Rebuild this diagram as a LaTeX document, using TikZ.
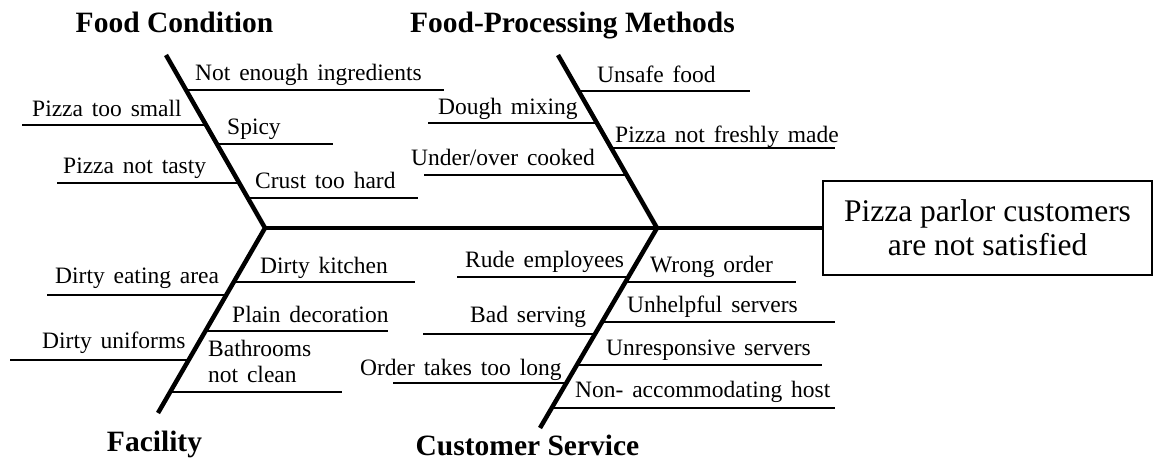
\documentclass[tikz,border=0pt]{standalone}
\usepackage{fontspec}
\setmainfont{Liberation Serif}
\newfontfamily\ribfont[WordSpace=1.5]{Liberation Serif}
\usetikzlibrary{positioning,calc}

\begin{document}
\begin{tikzpicture}[x=1pt, y=-1pt,
    bone/.style={line width=4.5pt, line join=miter},
    rib/.style={line width=1.4pt},
    lbl/.style={inner sep=0pt, anchor=base west, font=\ribfont\fontsize{23.5}{26}\selectfont},
    cat/.style={inner sep=0pt, anchor=base, font=\fontsize{29.5}{32}\selectfont\bfseries}]
\useasboundingbox (0,0) rectangle (1155,462);

\coordinate (fc-top) at (166,55);
\coordinate (fc-root) at (265,228);
\coordinate (fa-end) at (158,413);
\coordinate (fp-top) at (558,55);
\coordinate (fp-root) at (657,228);
\coordinate (cs-end) at (540,428);

\node[draw, line width=1.6pt, minimum width=329pt, minimum height=94pt, align=center,
      font=\fontsize{31.5}{34}\selectfont] (effect) at (987.5,228)
      {\raisebox{-4pt}{Pizza parlor customers}\\\raisebox{-4pt}{are not satisfied}};

\draw[bone] (fc-top) -- (fc-root) -- (fa-end);
\draw[bone] (fp-top) -- (fp-root) -- (cs-end);
\draw[bone] (fc-root) -- (effect.west);

\node[cat] (food-cond) at (174.5,33) {Food Condition};
\node[cat] (food-proc) at (572.5,33) {Food-Processing Methods};
\node[cat] (facility) at (154.5,451) {Facility};
\node[cat] (service) at (527.5,455) {Customer Service};

% food condition
\draw[rib] ($(fc-top)!0.202!(fc-root)$) -- ++(258,0);
\draw[rib] ($(fc-top)!0.405!(fc-root)$) -- ++(-184,0);
\draw[rib] ($(fc-top)!0.514!(fc-root)$) -- ++(116,0);
\draw[rib] ($(fc-top)!0.740!(fc-root)$) -- ++(-182,0);
\draw[rib] ($(fc-top)!0.827!(fc-root)$) -- ++(170,0);
\node[lbl] (ingredients) at (195,81) {Not enough ingredients};
\node[lbl] (too-small) at (32,117) {Pizza too small};
\node[lbl] (spicy) at (227,135) {Spicy};
\node[lbl] (not-tasty) at (63,174) {Pizza not tasty};
\node[lbl] (crust) at (255,189) {Crust too hard};

% food-processing methods
\draw[rib] ($(fp-top)!0.208!(fp-root)$) -- ++(171,0);
\draw[rib] ($(fp-top)!0.393!(fp-root)$) -- ++(-169,0);
\draw[rib] ($(fp-top)!0.538!(fp-root)$) -- ++(224,0);
\draw[rib] ($(fp-top)!0.694!(fp-root)$) -- ++(-203,0);
\node[lbl] (unsafe) at (597,83) {Unsafe food};
\node[lbl] (dough) at (438,115) {Dough mixing};
\node[lbl] (not-fresh) at (615,143) {Pizza not freshly made};
\node[lbl] (cooked) at (411,166) {Under/over cooked};

% facility
\draw[rib] ($(fc-root)!0.292!(fa-end)$) -- ++(181,0);
\draw[rib] ($(fc-root)!0.362!(fa-end)$) -- ++(-179,0);
\draw[rib] ($(fc-root)!0.557!(fa-end)$) -- ++(183,0);
\draw[rib] ($(fc-root)!0.714!(fa-end)$) -- ++(-179,0);
\draw[rib] ($(fc-root)!0.886!(fa-end)$) -- ++(172,0);
\node[lbl] (kitchen) at (260,273) {Dirty kitchen};
\node[lbl] (eating) at (55,283) {Dirty eating area};
\node[lbl] (decoration) at (232,322) {Plain decoration};
\node[lbl] (uniforms) at (42,348) {Dirty uniforms};
\node[lbl, align=left, anchor=north west] (bathrooms) at (208,340) {Bathrooms\\not clean};

% customer service
\draw[rib] ($(fp-root)!0.245!(cs-end)$) -- ++(-171,0);
\draw[rib] ($(fp-root)!0.270!(cs-end)$) -- ++(171,0);
\draw[rib] ($(fp-root)!0.470!(cs-end)$) -- ++(233,0);
\draw[rib] ($(fp-root)!0.530!(cs-end)$) -- ++(-172,0);
\draw[rib] ($(fp-root)!0.685!(cs-end)$) -- ++(245,0);
\draw[rib] ($(fp-root)!0.775!(cs-end)$) -- ++(-173,0);
\draw[rib] ($(fp-root)!0.900!(cs-end)$) -- ++(283,0);
\node[lbl] (rude) at (465,267) {Rude employees};
\node[lbl] (wrong) at (650,272) {Wrong order};
\node[lbl] (unhelpful) at (627,312) {Unhelpful servers};
\node[lbl] (bad) at (470,322) {Bad serving};
\node[lbl] (unresponsive) at (606,355) {Unresponsive servers};
\node[lbl] (too-long) at (360,375) {Order takes too long};
\node[lbl] (host) at (575,397) {Non- accommodating host};
\end{tikzpicture}
\end{document}
